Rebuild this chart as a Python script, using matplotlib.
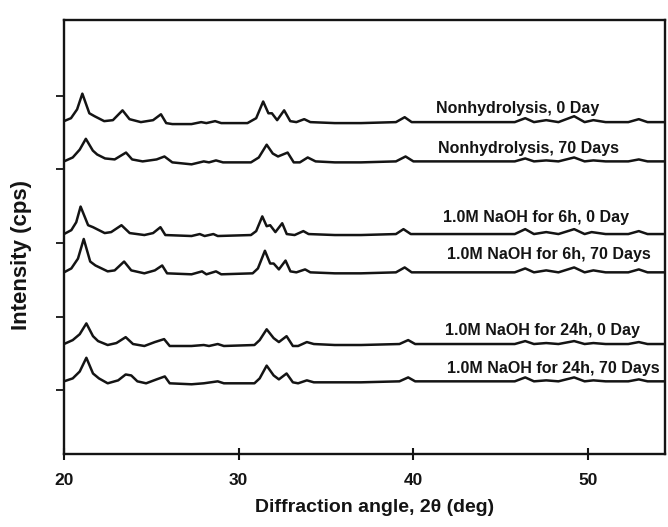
import matplotlib
matplotlib.use("Agg")
import matplotlib.pyplot as plt

plt.rcParams['font.family'] = ['Liberation Sans', 'DejaVu Sans']

# XRD patterns: (2-theta in deg, intensity above the pattern's own baseline)
nonhyd_0day = [(20.0, 1), (20.4, 4), (20.75, 13), (21.05, 29), (21.45, 9), (21.75, 6),
               (22.3, 1), (22.8, 2), (23.35, 12), (23.75, 3), (24.4, 0), (25.1, 2),
               (25.55, 8), (25.85, -1), (26.2, -2), (27.3, -2), (27.85, 0), (28.15, -1),
               (28.65, 1), (29.0, -1), (30.5, -1), (31.0, 4), (31.4, 21), (31.7, 9),
               (31.9, 9), (32.2, 2), (32.6, 12), (32.95, 1), (33.3, 0), (33.75, 3),
               (34.1, 0), (35.5, -1), (37.0, -1), (39.0, 0), (39.5, 5), (39.9, 0),
               (42.0, 0), (44.0, 0), (45.8, 0), (46.4, 4), (46.9, 0), (47.6, 2),
               (48.3, 0), (49.2, 6), (49.8, 0), (50.3, 2), (51.0, 0), (52.3, 0),
               (52.9, 3), (53.4, 0), (54.4, 0)]
nonhyd_70day = [(20.0, 0), (20.5, 4), (20.9, 12), (21.25, 23), (21.65, 11), (21.9, 7),
                (22.35, 3), (22.9, 2), (23.55, 9), (23.9, 2), (24.5, 0), (25.3, 2),
                (25.75, 5), (26.2, -1), (27.3, -3), (28.0, 0), (28.3, -1), (28.7, 1),
                (29.1, -1), (30.7, -1), (31.15, 4), (31.6, 17), (31.95, 8), (32.25, 5),
                (32.8, 9), (33.15, -1), (33.5, -1), (33.95, 4), (34.4, 0), (35.5, -1),
                (37.0, -1), (39.0, 0), (39.55, 5), (40.0, 0), (42.0, 0), (44.0, 0),
                (45.8, 0), (46.4, 3), (46.9, 0), (47.6, 1), (48.3, 0), (49.2, 4),
                (49.8, 0), (50.3, 1), (51.0, 0), (52.3, 0), (52.9, 2), (53.4, 0), (54.4, 0)]
naoh6h_0day = [(20.0, 0), (20.42, 4), (20.7, 12), (20.95, 28), (21.38, 9), (21.66, 7),
               (22.33, 1), (22.7, 2), (23.29, 9), (23.76, 1), (24.6, -1), (25.1, 1),
               (25.52, 7), (25.8, -1), (27.3, -2), (27.77, 0), (28.05, -2), (28.55, 0),
               (28.8, -2), (30.7, -1), (31.0, 3), (31.35, 18), (31.6, 8), (31.8, 9),
               (32.1, 2), (32.49, 11), (32.75, 0), (33.2, -1), (33.7, 3), (34.0, 0),
               (35.5, -1), (37.0, -1), (39.0, 0), (39.43, 5), (39.85, 0), (42.0, 0),
               (44.0, 0), (45.8, 0), (46.4, 5), (46.9, 0), (47.6, 2), (48.3, 0),
               (49.2, 5), (49.8, 0), (50.2, 2), (51.0, 0), (52.3, 0), (52.9, 3),
               (53.4, 0), (54.4, 0)]
naoh6h_70day = [(20.0, 0), (20.42, 4), (20.8, 14), (21.13, 34), (21.5, 11), (21.8, 7),
                (22.5, 1), (22.9, 2), (23.44, 11), (23.85, 2), (24.6, -1), (25.2, 2),
                (25.62, 7), (25.9, -1), (27.3, -2), (27.9, 1), (28.15, -2), (28.7, 1),
                (29.0, -2), (30.8, -1), (31.1, 4), (31.5, 22), (31.8, 9), (32.0, 9),
                (32.3, 3), (32.68, 12), (32.96, 1), (33.3, 0), (33.8, 3), (34.1, 0),
                (35.5, -1), (37.0, -1), (39.0, 0), (39.5, 5), (39.9, 0), (42.0, 0),
                (44.0, 0), (45.8, 0), (46.4, 4), (46.9, 0), (47.6, 2), (48.3, 0),
                (49.2, 5), (49.8, 0), (50.3, 2), (51.0, 0), (52.3, 0), (52.9, 3),
                (53.4, 0), (54.4, 0)]
naoh24h_0day = [(20.0, 0), (20.5, 4), (20.9, 10), (21.28, 21), (21.66, 8), (21.95, 3),
                (22.5, -1), (23.0, 1), (23.53, 7), (23.95, 0), (24.6, -2), (25.2, 2),
                (25.73, 5), (26.05, -2), (27.3, -2), (28.0, -1), (28.3, -2), (28.8, 0),
                (29.15, -2), (30.9, -1), (31.2, 4), (31.6, 15), (32.0, 6), (32.3, 2),
                (32.74, 8), (33.1, -2), (33.4, -2), (33.9, 2), (34.3, 0), (35.5, -1),
                (37.0, -1), (39.2, 0), (39.7, 4), (40.1, 0), (42.0, 0), (44.0, 0),
                (45.8, 0), (46.4, 3), (46.9, 0), (47.6, 1), (48.3, 0), (49.2, 3),
                (49.8, 0), (50.3, 1), (51.0, 0), (52.3, 0), (52.9, 2), (53.4, 0), (54.4, 0)]
naoh24h_70day = [(20.0, 0), (20.5, 3), (20.9, 10), (21.28, 24), (21.66, 8), (22.0, 3),
                 (22.5, -2), (23.1, 1), (23.53, 7), (23.85, 6), (24.2, 0), (24.7, -2),
                 (25.3, 2), (25.77, 5), (26.05, -2), (27.3, -3), (28.0, -2), (28.8, 0),
                 (29.15, -2), (30.9, -2), (31.2, 3), (31.6, 16), (32.0, 6), (32.3, 2),
                 (32.74, 8), (33.1, -1), (33.4, -2), (33.9, 1), (34.3, -1), (35.5, -1),
                 (37.0, -1), (39.2, 0), (39.7, 4), (40.1, 0), (42.0, 0), (44.0, 0),
                 (45.8, 0), (46.4, 4), (46.9, 0), (47.6, 1), (48.3, 0), (49.2, 4),
                 (49.8, 0), (50.3, 1), (51.0, 0), (52.3, 0), (52.9, 2), (53.4, 0), (54.4, 0)]

patterns = [nonhyd_0day, nonhyd_70day, naoh6h_0day, naoh6h_70day,
            naoh24h_0day, naoh24h_70day]
labels = ["Nonhydrolysis, 0 Day", "Nonhydrolysis, 70 Days",
          "1.0M NaOH for 6h, 0 Day", "1.0M NaOH for 6h, 70 Days",
          "1.0M NaOH for 24h, 0 Day", "1.0M NaOH for 24h, 70 Days"]
# vertical stacking of the patterns
offsets = [273, 233, 159, 120, 47, 9]
# label anchors (2-theta, height) for each pattern
label_x = [41.3, 41.4, 41.7, 41.9, 41.8, 41.9]
label_y = [282, 242, 171, 134, 56, 18]

x_ticks = [20, 30, 40, 50]
y_ticks = [0, 75, 150, 225, 300]

W, H = 668, 527
fig = plt.figure(figsize=(W / 100, H / 100), dpi=100)
ax = fig.add_axes([64 / W, 1 - 454 / H, (665 - 64) / W, (454 - 20) / H])

ink = "#141414"
for pat, off in zip(patterns, offsets):
    xs = [p[0] for p in pat]
    ys = [p[1] + off for p in pat]
    ax.plot(xs, ys, color=ink, lw=1.8, solid_joinstyle="round")

for txt, tx, ty in zip(labels, label_x, label_y):
    ax.text(tx, ty, txt, fontsize=11.5, fontweight="bold", color=ink,
            ha="left", va="baseline")

ax.set_xlim(20, 54.4)
ax.set_ylim(-65, 377)
ax.set_xticks(x_ticks)
ax.set_xticklabels([str(t) for t in x_ticks], fontsize=12.5, fontweight="bold", color=ink)
ax.set_yticks(y_ticks)
ax.set_yticklabels([])
ax.tick_params(axis="x", direction="inout", length=8, width=1.5, pad=10, colors=ink)
ax.tick_params(axis="y", direction="out", length=6, width=1.3, colors=ink)
for sp in ax.spines.values():
    sp.set_linewidth(1.7)
    sp.set_color(ink)

fig.text(375 / W, 1 - 508 / H, "Diffraction angle, 2\u03b8 (deg)", fontsize=14,
         fontweight="bold", color=ink, ha="center", va="center")
fig.text(22 / W, 1 - 255 / H, "Intensity (cps)", fontsize=16, fontweight="bold",
         color=ink, ha="center", va="center", rotation=90)

fig.savefig("out.png", dpi=100)
